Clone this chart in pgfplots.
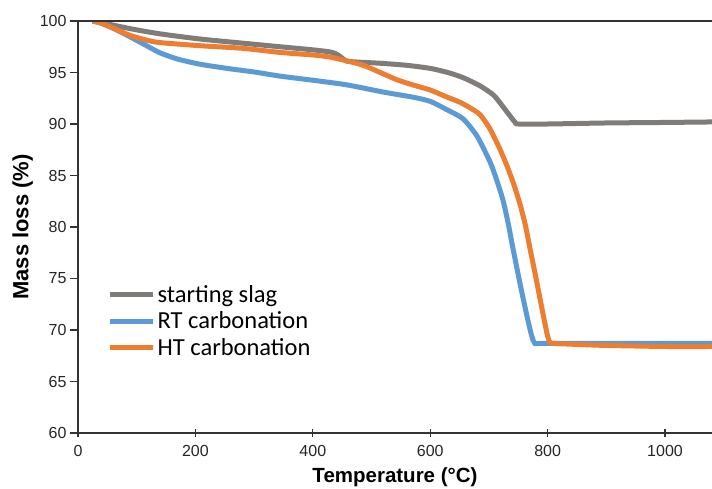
\documentclass[border=0pt]{standalone}
\usepackage{pgfplots}
\pgfplotsset{compat=1.18}
\usepackage{pgfplotstable}
\usepackage{fontspec}
\setmainfont{Liberation Sans}
\newfontfamily\calibri{Carlito}
\definecolor{cgray}{HTML}{7F7C7A}
\definecolor{cblue}{HTML}{5B9BD5}
\definecolor{corange}{HTML}{ED7D31}

\pgfplotstableread{
x y
25 100
40 99.85
60 99.6
94 99.2
140 98.75
208 98.25
280 97.85
344 97.5
400 97.2
429 97.0
440 96.8
450 96.4
458 96.1
480 96.0
514 95.9
560 95.7
600 95.4
630 95.0
656 94.5
685 93.7
708 92.8
725 91.6
744 90.2
750 90.0
800 90.0
900 90.1
1000 90.15
1080 90.2
}\slagdata

\pgfplotstableread{
x y
25 100
38 99.8
60 99.3
94 98.3
120 97.5
140 96.9
170 96.3
208 95.8
260 95.35
300 95.05
344 94.65
400 94.25
458 93.8
520 93.1
571 92.6
600 92.2
628 91.4
656 90.5
680 88.8
702 86.3
713 84.6
724 82.6
733 80.3
741 77.9
753 74.5
765 71.3
773 69.4
779 68.7
800 68.7
1080 68.7
}\rtdata

\pgfplotstableread{
x y
25 100
40 99.8
60 99.3
80 98.8
94 98.5
120 98.1
140 97.9
208 97.6
280 97.35
344 96.95
400 96.7
429 96.5
460 96.1
486 95.7
515 95.0
543 94.3
570 93.8
600 93.3
625 92.7
651 92.1
670 91.5
685 90.9
700 89.7
710 88.6
720 87.4
731 85.9
742 84.2
753 82.2
762 80.2
770 77.9
780 75.1
793 71.3
800 69.4
804 68.8
810 68.7
850 68.6
900 68.5
1000 68.4
1080 68.4
}\htdata

\begin{document}
\begin{tikzpicture}
\begin{axis}[
  scale only axis, width=634pt, height=412pt,
  xmin=0, xmax=1080, ymin=60, ymax=100,
  axis x line*=bottom, axis y line*=left,
  axis line style={black!80, line width=1.1pt},
  xtick={0,200,...,1000}, ytick={60,65,...,100},
  tick style={black!80, line width=1.1pt},
  xtick align=center, ytick align=outside,
  major tick length=8pt,
  ticklabel style={font=\fontsize{16}{18}\selectfont, text=black!85},
  xticklabel style={yshift=-5pt},
  /pgf/number format/assume math mode=true,
  /pgf/number format/1000 sep={},
  xlabel={Temperature (°C)}, ylabel={Mass loss (\%)},
  xlabel style={font=\fontsize{20.5}{24}\selectfont\bfseries, yshift=-4pt},
  ylabel style={font=\fontsize{22}{26}\selectfont\bfseries},
  legend style={draw=none, fill=none, font=\calibri\fontsize{24.5}{26}\selectfont,
    at={(axis cs:45,74.75)}, anchor=north west, row sep=4pt},
  legend cell align=left,
  legend image code/.code={\draw[#1, line width=5pt] (0pt,0pt) -- (43pt,0pt);},
]
\addplot[cgray, line width=5pt, line join=round, smooth, tension=0.4] table[x=x,y=y] {\slagdata};
\addlegendentry{starting slag}
\addplot[cblue, line width=5pt, line join=round, smooth, tension=0.4] table[x=x,y=y] {\rtdata};
\addlegendentry{RT carbonation}
\addplot[corange, line width=5pt, line join=round, smooth, tension=0.4] table[x=x,y=y] {\htdata};
\addlegendentry{HT carbonation}
\draw[black!80, line width=1.1pt] (rel axis cs:0,1) -- (rel axis cs:1,1);
\end{axis}
\pgfresetboundingbox
\path[use as bounding box] ([xshift=-78pt,yshift=-55pt]current axis.south west) rectangle ([yshift=21pt]current axis.north east);
\end{tikzpicture}
\end{document}
